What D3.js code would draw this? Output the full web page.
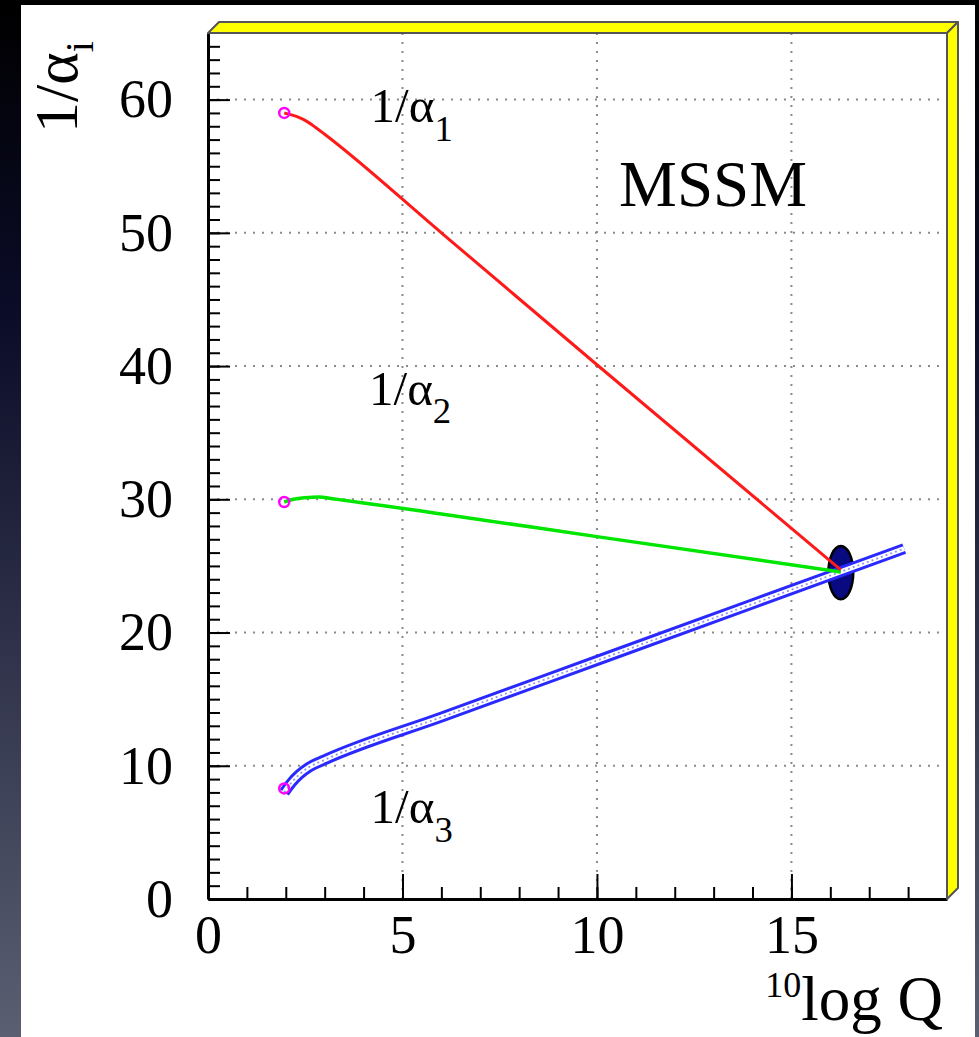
<!DOCTYPE html>
<html>
<head>
<meta charset="utf-8">
<script src="https://cdn.jsdelivr.net/npm/d3@7"></script>
<style>
  html, body { margin: 0; padding: 0; background: #000; }
  svg { display: block; }
  text { font-family: "Liberation Serif", "Times New Roman", serif; }
</style>
</head>
<body>
<svg id="chart" width="979" height="1037"></svg>
<script>
// running couplings 1/alpha_i vs log10 Q (MSSM)
var alpha1 = [[1.96, 59.0], [2.15, 58.85], [2.35, 58.65], [2.55, 58.35], [2.75, 57.95], [3.0, 57.4], [6.0, 50.0], [10.0, 40.1], [16.27, 24.7]];
var alpha2 = [[1.96, 29.8], [2.2, 30.0], [2.5, 30.12], [2.85, 30.18], [3.2, 30.05], [6.0, 28.9], [10.0, 27.2], [16.27, 24.55]];
var alpha3 = [[1.96, 8.0], [2.15, 8.75], [2.35, 9.35], [2.6, 9.9], [3.0, 10.45], [6.0, 13.65], [10.0, 17.9], [14.0, 22.15], [17.9, 26.3]];
var startPoints = [[1.96, 59.0], [1.96, 29.8], [1.96, 8.3]];
var unification = {x: 16.27, y: 24.5, dx: 0.32, dy: 2.0};

var xTicks = [0, 5, 10, 15];
var yTicks = [0, 10, 20, 30, 40, 50, 60];
var xDomain = [0, 19];
var yDomain = [0, 65];

var svg = d3.select("#chart");
var W = 979, H = 1037;

// background
var defs = svg.append("defs");
var grad = defs.append("linearGradient").attr("id", "bg").attr("x1", 0).attr("y1", 0).attr("x2", 0).attr("y2", 1);
grad.append("stop").attr("offset", "0").attr("stop-color", "#000000");
grad.append("stop").attr("offset", "0.3").attr("stop-color", "#0b0c28");
grad.append("stop").attr("offset", "0.6").attr("stop-color", "#2c2f47");
grad.append("stop").attr("offset", "1").attr("stop-color", "#5a5f72");
svg.append("rect").attr("width", W).attr("height", H).attr("fill", "url(#bg)");
svg.append("rect").attr("x", 21).attr("y", 5).attr("width", 954).attr("height", H - 5).attr("fill", "#fff");

var margin = {top: 33, right: 32, bottom: 138, left: 208};
var width = W - margin.left - margin.right,
    height = H - margin.top - margin.bottom;

var x = d3.scaleLinear().domain(xDomain).range([0, width]);
var y = d3.scaleLinear().domain(yDomain).range([height, 0]);

var g = svg.append("g").attr("transform", "translate(" + margin.left + "," + margin.top + ")");

// grid
g.append("g").selectAll("line").data(yTicks.slice(1))
  .enter().append("line")
    .attr("x1", 0).attr("x2", width)
    .attr("y1", function(d) { return y(d); }).attr("y2", function(d) { return y(d); })
    .attr("stroke", "#8a8a8a").attr("stroke-width", 2).attr("stroke-dasharray", "2,7");
g.append("g").selectAll("line").data(xTicks.slice(1))
  .enter().append("line")
    .attr("y1", 0).attr("y2", height)
    .attr("x1", function(d) { return x(d); }).attr("x2", function(d) { return x(d); })
    .attr("stroke", "#8a8a8a").attr("stroke-width", 2).attr("stroke-dasharray", "2,7");

// minor ticks
g.append("g")
  .call(d3.axisLeft(y).tickValues(d3.range(1, 65)).tickSize(-12).tickSizeOuter(0).tickFormat(""))
  .call(function(s) { s.select(".domain").remove(); s.selectAll("line").attr("stroke-width", 2); });
g.append("g").attr("transform", "translate(0," + height + ")")
  .call(d3.axisBottom(x).tickValues(d3.range(1, 19)).tickSize(-12).tickSizeOuter(0).tickFormat(""))
  .call(function(s) { s.select(".domain").remove(); s.selectAll("line").attr("stroke-width", 2); });

// major axes
var yAxis = g.append("g")
  .call(d3.axisLeft(y).tickValues(yTicks).tickSize(-22).tickSizeOuter(0).tickPadding(35));
var xAxis = g.append("g").attr("transform", "translate(0," + height + ")")
  .call(d3.axisBottom(x).tickValues(xTicks).tickSize(-25).tickSizeOuter(0).tickPadding(16));
[yAxis, xAxis].forEach(function(a) {
  a.select(".domain").attr("stroke-width", 3);
  a.selectAll("line").attr("stroke-width", 2);
  a.selectAll("text").attr("font-size", 54).attr("fill", "#000")
    .attr("font-family", "'Liberation Serif', 'Times New Roman', serif");
});

// 3D frame (top and right faces)
var dep = 11;
g.append("path")
  .attr("d", "M0,0 L" + dep + "," + (-dep) + " L" + (width + dep) + "," + (-dep) + " L" + width + ",0 Z")
  .attr("fill", "#ffff00").attr("stroke", "#555").attr("stroke-width", 2).attr("stroke-linejoin", "round");
g.append("path")
  .attr("d", "M" + width + ",0 L" + (width + dep) + "," + (-dep) + " L" + (width + dep) + "," + (height - dep) + " L" + width + "," + height + " Z")
  .attr("fill", "#ffff00").attr("stroke", "#555").attr("stroke-width", 2).attr("stroke-linejoin", "round");

// unification ellipse
g.append("ellipse")
  .attr("cx", x(unification.x)).attr("cy", y(unification.y))
  .attr("rx", x(unification.dx) - x(0)).attr("ry", y(0) - y(unification.dy))
  .attr("fill", "#0a0a80").attr("stroke", "#000").attr("stroke-width", 2.5);

var line = d3.line()
  .x(function(d) { return x(d[0]); })
  .y(function(d) { return y(d[1]); })
  .curve(d3.curveMonotoneX);

// 1/alpha3 band
g.append("path").datum(alpha3).attr("d", line)
  .attr("fill", "none").attr("stroke", "#2a2aff").attr("stroke-width", 11).attr("stroke-linecap", "butt");
g.append("path").datum(alpha3).attr("d", line)
  .attr("fill", "none").attr("stroke", "#fff").attr("stroke-width", 5);
g.append("path").datum(alpha3).attr("d", line)
  .attr("fill", "none").attr("stroke", "#8f96ea").attr("stroke-width", 1.8).attr("stroke-dasharray", "2,3");

g.append("path").datum(alpha2).attr("d", line)
  .attr("fill", "none").attr("stroke", "#00e600").attr("stroke-width", 3.5);
g.append("path").datum(alpha1).attr("d", line)
  .attr("fill", "none").attr("stroke", "#ff1a1a").attr("stroke-width", 3);

// start markers
g.append("g").selectAll("circle").data(startPoints)
  .enter().append("circle")
    .attr("cx", function(d) { return x(d[0]); })
    .attr("cy", function(d) { return y(d[1]); })
    .attr("r", 5)
    .attr("fill", "none").attr("stroke", "#ff00ff").attr("stroke-width", 2.5);

// curve labels
function coupling(px, py, sub, size) {
  var t = g.append("text").attr("x", x(px)).attr("y", y(py)).attr("font-size", size).attr("fill", "#000");
  t.append("tspan").text("1/\u03b1");
  t.append("tspan").attr("font-size", size * 0.75).attr("dy", size * 0.38).text(sub);
  return t;
}
coupling(4.18, 58.3, "1", 49);
coupling(4.14, 37.1, "2", 49);
coupling(4.18, 5.7, "3", 49);

g.append("text").attr("x", x(10.57)).attr("y", y(52.0))
  .attr("font-size", 65).attr("fill", "#000").text("MSSM");

// axis titles
var xt = svg.append("text").attr("x", 943).attr("y", 1020).attr("text-anchor", "end").attr("fill", "#000");
xt.append("tspan").attr("font-size", 36).attr("dy", -23).text("10");
xt.append("tspan").attr("font-size", 63).attr("dy", 23).text("log Q");

var yt = svg.append("text").attr("transform", "translate(77,133) rotate(-90)").attr("fill", "#000");
yt.append("tspan").attr("font-size", 62).text("1/\u03b1");
yt.append("tspan").attr("font-size", 40).attr("dy", 16).text("i");
</script>
</body>
</html>
